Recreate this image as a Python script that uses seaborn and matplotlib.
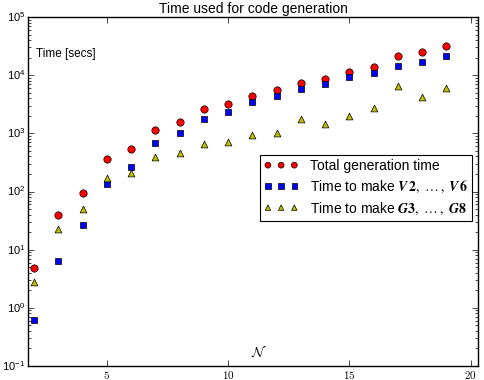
import numpy as np
import pandas as pd
import matplotlib
matplotlib.use("Agg")
import matplotlib.pyplot as plt
import seaborn as sns

# values (seconds, log scale)
n_values = [2, 3, 4, 5, 6, 7, 8, 9, 10, 11, 12, 13, 14, 15, 16, 17, 18, 19]
total_time = [4.9, 39, 95, 355, 537, 1160, 1550, 2580, 3150, 4470, 5530,
              7300, 8650, 11500, 13900, 21000, 25400, 31400]
v_time = [0.62, 6.5, 26.7, 137, 264, 695, 1000, 1790, 2290, 3400, 4300,
          5820, 6920, 9350, 10800, 14100, 17100, 21400]
g_time = [2.77, 23, 51, 171, 212, 385, 452, 655, 705, 920, 1010,
          1780, 1440, 1980, 2750, 6500, 4200, 6000]

series_labels = ["Total generation time",
                 r"Time to make $\boldsymbol{V}\,\mathbf{2},\;\ldots\;,\;\boldsymbol{V}\,\mathbf{6}$",
                 r"Time to make $\boldsymbol{G3},\;\ldots\;,\;\boldsymbol{G8}$"]

plt.style.use("classic")
plt.rcParams["mathtext.fontset"] = "cm"
plt.rcParams["font.family"] = ["Liberation Sans", "DejaVu Sans"]
plt.rcParams["font.size"] = 10

df = pd.DataFrame({"N": n_values, "total": total_time, "v": v_time, "g": g_time})

fig = plt.figure(figsize=(4.85, 3.8), dpi=100, facecolor="white")
ax = fig.add_axes([28 / 485, 1 - 366 / 380, 450 / 485, 349 / 380])

sns.scatterplot(data=df, x="N", y="total", marker="o", color="r", s=28,
                edgecolor="k", linewidth=0.5, label=series_labels[0], ax=ax, zorder=3)
sns.scatterplot(data=df, x="N", y="v", marker="s", color="b", s=24,
                edgecolor="k", linewidth=0.5, label=series_labels[1], ax=ax, zorder=3)
sns.scatterplot(data=df, x="N", y="g", marker="^", color="y", s=24,
                edgecolor="k", linewidth=0.5, label=series_labels[2], ax=ax, zorder=3)

ax.set_yscale("log")
ax.set_ylim(1e-1, 1e5)
ax.set_xlim(1.75, 20.3)
ax.set_xticks([5, 10, 15, 20])
ax.set_xlabel("")
ax.set_ylabel("")
ax.tick_params(axis="both", which="both", direction="in", top=True, right=True,
               labelsize=8)
ax.tick_params(axis="x", pad=2)
ax.tick_params(axis="y", pad=2)
ax.set_xticklabels([r"$5$", r"$10$", r"$15$", r"$20$"])
ax.set_title("Time used for code generation", fontsize=10, pad=3)

ax.text(0.018, 0.893, "Time [secs]", transform=ax.transAxes, fontsize=8.5,
        va="center", ha="left")
ax.text(0.513, 0.04, r"$\mathcal{N}$", transform=ax.transAxes, fontsize=10,
        va="center", ha="center")

leg = ax.legend(loc="upper right", bbox_to_anchor=(0.987, 0.605), scatterpoints=3,
                scatteryoffsets=[0.5], fontsize=10, frameon=True, fancybox=False,
                markerscale=0.8, handletextpad=0.8, borderpad=0.3, labelspacing=0.4,
                handlelength=2.5, borderaxespad=0)
for t in leg.get_texts():
    t.set_math_fontfamily("stix")
leg.get_frame().set_edgecolor("k")
leg.get_frame().set_linewidth(0.8)

fig.savefig("out.png", dpi=100, facecolor="white")
